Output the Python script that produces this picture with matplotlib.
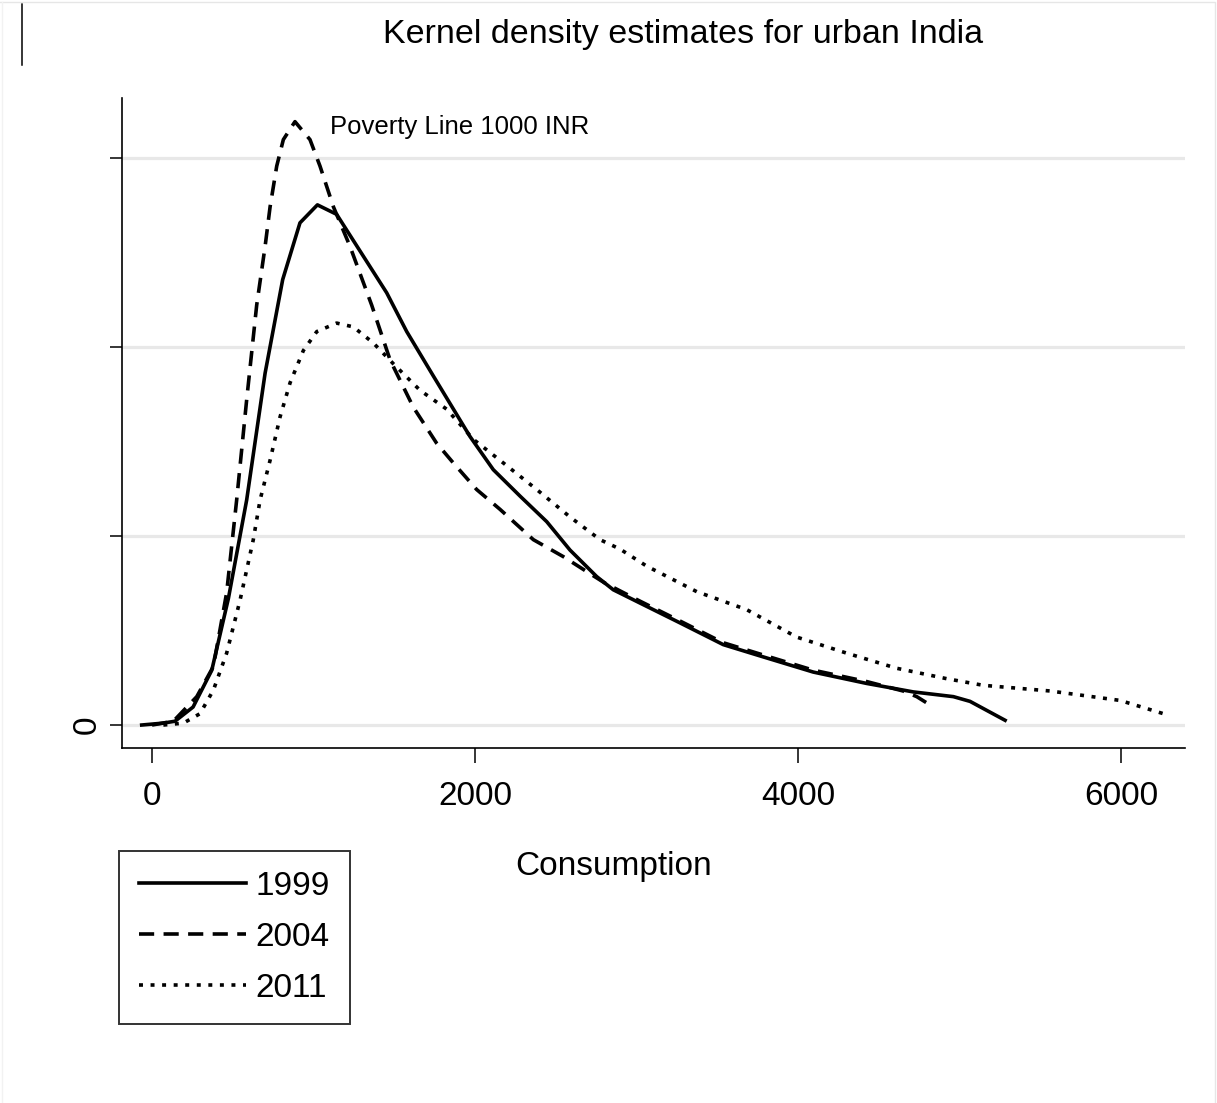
import numpy as np
import matplotlib.pyplot as plt
from matplotlib import font_manager
from matplotlib.lines import Line2D

# pick a narrow Arial-like face if there is one
names = {f.name for f in font_manager.fontManager.ttflist}
face = 'Liberation Sans Narrow' if 'Liberation Sans Narrow' in names else 'Liberation Sans'
plt.rcParams['font.family'] = [face, 'DejaVu Sans']

# consumption (INR) and density (x 1e-4)
cons_1999 = [-64, 68, 142, 254, 370, 473, 586, 700, 809, 916, 1024, 1143, 1453, 1577,
             1742, 1969, 2113, 2279, 2444, 2588, 2753, 2856, 3021, 3269, 3537, 3785,
             4094, 4424, 4714, 4962, 5065, 5282]
dens_1999 = [0.0, 0.02, 0.04, 0.19, 0.58, 1.34, 2.38, 3.72, 4.71, 5.31, 5.50, 5.40, 4.57,
             4.16, 3.69, 3.05, 2.70, 2.42, 2.15, 1.85, 1.57, 1.43, 1.29, 1.08, 0.85, 0.72,
             0.56, 0.44, 0.35, 0.30, 0.25, 0.05]

cons_2004 = [0, 132, 277, 380, 462, 524, 586, 648, 700, 731, 772, 813, 885, 978, 1040,
             1123, 1226, 1360, 1474, 1618, 1762, 1866, 2010, 2155, 2361, 2547, 2712, 2805,
             3021, 3269, 3537, 3785, 4094, 4424, 4650, 4735, 4838]
dens_2004 = [0.0, 0.04, 0.30, 0.62, 1.40, 2.38, 3.44, 4.44, 5.06, 5.48, 5.91, 6.19, 6.38,
             6.19, 5.91, 5.48, 5.06, 4.44, 3.86, 3.36, 2.98, 2.77, 2.49, 2.28, 1.96, 1.78,
             1.60, 1.50, 1.31, 1.10, 0.87, 0.74, 0.58, 0.46, 0.36, 0.30, 0.19]

cons_2011 = [70, 194, 297, 380, 462, 545, 627, 669, 731, 793, 855, 937, 1020, 1143, 1246,
             1370, 1494, 1659, 1824, 1990, 2176, 2382, 2588, 2774, 2898, 3063, 3373, 3682,
             3991, 4301, 4611, 4920, 5146, 5560, 5994, 6262]
dens_2011 = [0.0, 0.02, 0.12, 0.37, 0.76, 1.32, 1.96, 2.38, 2.80, 3.26, 3.62, 3.96, 4.16,
             4.25, 4.21, 4.04, 3.82, 3.54, 3.34, 3.02, 2.77, 2.49, 2.20, 1.96, 1.86, 1.68,
             1.41, 1.22, 0.93, 0.76, 0.60, 0.49, 0.42, 0.36, 0.26, 0.12]

years = ['1999', '2004', '2011']
x_ticks = [0, 2000, 4000, 6000]
y_ticks = [0, 0.0002, 0.0004, 0.0006]

W, H = 1217, 1103
fig = plt.figure(figsize=(W / 100, H / 100), dpi=100)
ax = fig.add_axes([122 / W, 1 - 748 / H, (1185 - 122) / W, (748 - 98) / H])

lw = 2.6
ax.plot(cons_1999, np.array(dens_1999) * 1e-4, color='black', lw=lw, label=years[0])
ax.plot(cons_2004, np.array(dens_2004) * 1e-4, color='black', lw=lw, dashes=(4.2, 2.6), label=years[1])
ax.plot(cons_2011, np.array(dens_2011) * 1e-4, color='black', lw=lw, dashes=(1.1, 2.1), label=years[2])

ax.text(1102, 0.000632, 'Poverty Line 1000 INR', fontsize=18.5, ha='left', va='center')

ax.set_xlim(-186, 6396)
ax.set_ylim(-0.0000243, 0.000663)
ax.set_xticks(x_ticks)
ax.set_xticklabels([str(v) for v in x_ticks], fontsize=24)
ax.set_yticks(y_ticks)
ax.set_yticklabels(['0', '', '', ''], fontsize=24, rotation=90, va='center')
ax.tick_params(axis='x', length=11, width=1.1, pad=13)
ax.tick_params(axis='y', length=8.6, width=1.1, pad=5)
ax.grid(axis='y', color='#e8e8e8', lw=2.3)
ax.set_axisbelow(True)
for s in ['top', 'right']:
    ax.spines[s].set_visible(False)
for s in ['left', 'bottom']:
    ax.spines[s].set_linewidth(1.2)

fig.text(614 / W, 1 - 866 / H, 'Consumption', fontsize=24, ha='center', va='center')
fig.text(683 / W, 1 - 35 / H, 'Kernel density estimates for urban India', fontsize=24.5,
         ha='center', va='center')

leg = ax.legend(loc='upper left', bbox_to_anchor=(119 / W, 1 - 851 / H),
                bbox_transform=fig.transFigure, borderaxespad=0, fontsize=24,
                frameon=True, fancybox=False, edgecolor='black', handlelength=3.2,
                handletextpad=0.3, labelspacing=0.6, borderpad=0.6)
leg.get_frame().set_linewidth(1.4)

# stray mark at the top left and the faint outer frame
fig.add_artist(Line2D([22 / W, 22 / W], [1 - 4 / H, 1 - 65 / H], color='black', lw=1.1))
fig.add_artist(Line2D([0, 1215 / W, 1215 / W], [1 - 2 / H, 1 - 2 / H, 0],
                      color='#e6e6e6', lw=1))
fig.add_artist(Line2D([2 / W, 2 / W], [0, 1 - 2 / H], color='#f2f2f2', lw=1))

fig.savefig('out.png', dpi=100)
